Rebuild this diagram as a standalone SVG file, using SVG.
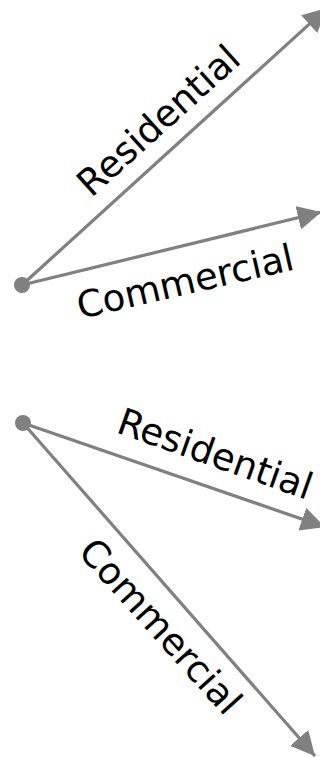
<svg xmlns="http://www.w3.org/2000/svg" width="320" height="757" viewBox="0 0 320 757">
  <style>
    .edge { stroke: #808080; stroke-width: 3.2; fill: none; marker-end: url(#head); }
    .dot { fill: #808080; }
    .lbl { font-family: "DejaVu Sans", sans-serif; font-size: 37px; fill: #000; text-anchor: middle; }
  </style>
  <defs>
    <marker id="head" markerUnits="userSpaceOnUse" viewBox="0 0 24 24" refX="24" refY="12" markerWidth="24" markerHeight="24" orient="auto">
      <path d="M0,0 L24,12 L0,24 Z" fill="#808080"/>
    </marker>
  </defs>
  <rect width="320" height="757" fill="#fff"/>

  <!-- connectors -->
  <g id="connectors">
    <line id="top-res" class="edge" x1="22" y1="285" x2="327" y2="8"/>
    <line id="top-com" class="edge" x1="22" y1="285" x2="321.6" y2="212"/>
    <line id="bot-res" class="edge" x1="23" y1="423" x2="325" y2="527"/>
    <line id="bot-com" class="edge" x1="23" y1="423" x2="315" y2="756"/>
  </g>

  <!-- source nodes -->
  <g id="node-top"><circle class="dot" cx="22" cy="285" r="8"/></g>
  <g id="node-bottom"><circle class="dot" cx="23" cy="423" r="8"/></g>

  <!-- edge labels -->
  <g id="labels">
    <text class="lbl" transform="translate(167,130) rotate(-42)">Residential</text>
    <text class="lbl" transform="translate(188,294) rotate(-13)">Commercial</text>
    <text class="lbl" transform="translate(211,466) rotate(19.5)">Residential</text>
    <text class="lbl" transform="translate(151,635) rotate(48)">Commercial</text>
  </g>
</svg>
